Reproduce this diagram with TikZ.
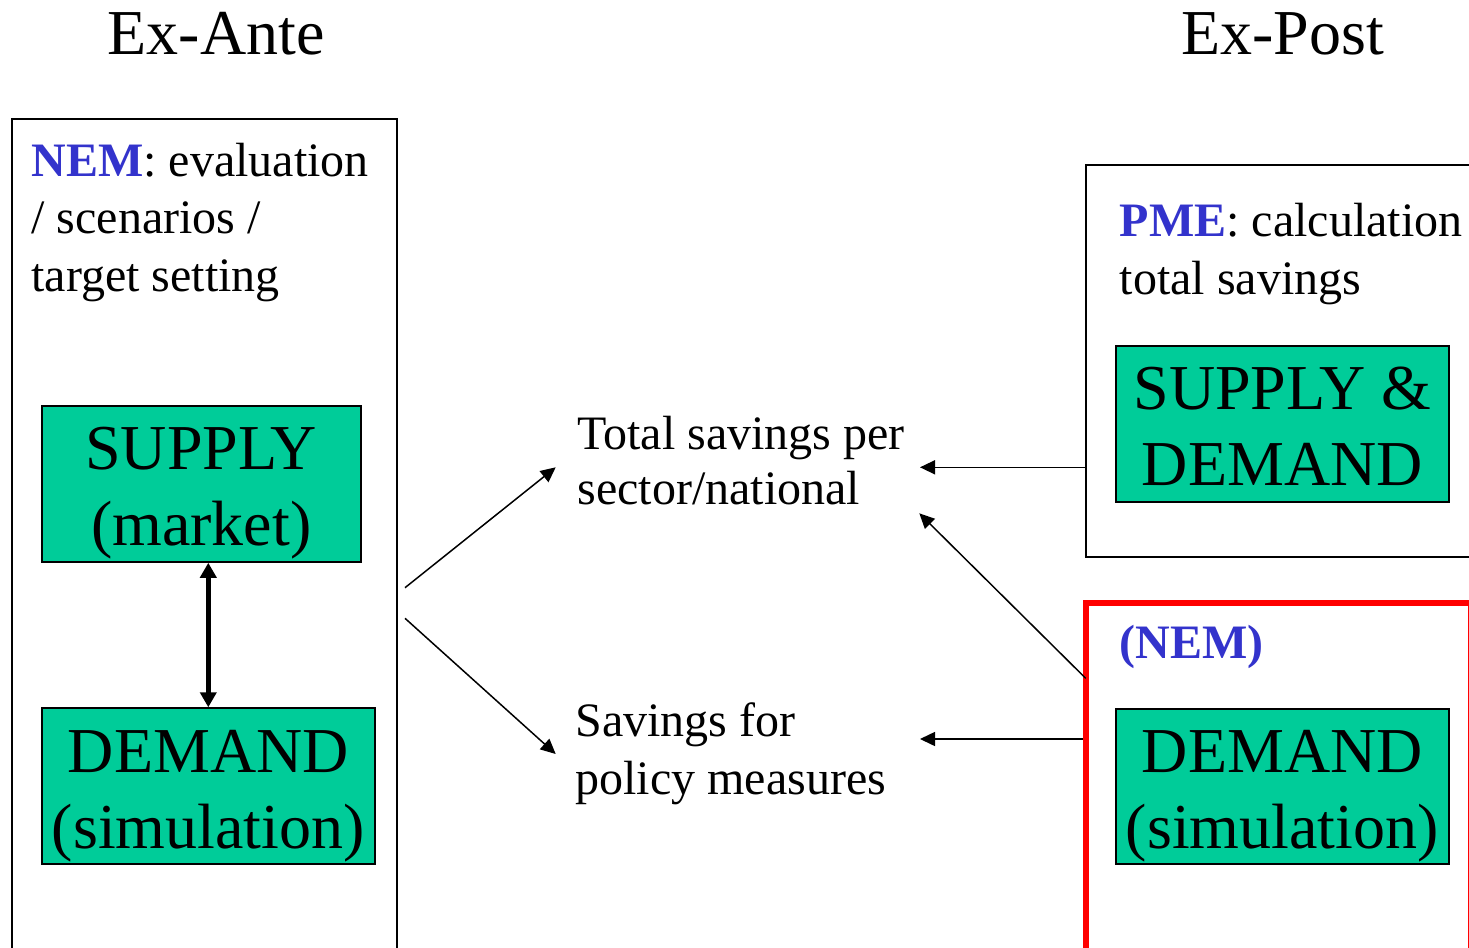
\documentclass[tikz,border=0pt]{standalone}
\usepackage{fontspec}
\setmainfont{Liberation Serif}
\usetikzlibrary{arrows.meta}
\definecolor{boxgreen}{RGB}{0,204,153}
\definecolor{nemblue}{RGB}{51,51,204}
\newcommand\bxstrut{\rule[-7pt]{0pt}{38pt}}
\newcommand\tpstrut{\rule{0pt}{0.9em}}
\begin{document}
\begin{tikzpicture}[x=0.5pt,y=-0.5pt,
  greenbox/.style={draw=black, line width=1pt, fill=boxgreen, align=center,
    inner sep=0pt, font=\fontsize{32}{38}\selectfont},
  outerbox/.style={draw=black, line width=1pt, inner sep=0pt},
  lbl/.style={anchor=north west, inner sep=0pt, align=left},
  ttl/.style={anchor=base, inner sep=0pt, font=\fontsize{32}{38}\selectfont},
  arr/.style={line width=0.75pt, -{Triangle[length=7.5pt,width=7pt]}},
  dbl/.style={line width=2.3pt, {Triangle[length=7.5pt,width=8pt]}-{Triangle[length=7.5pt,width=8pt]}}]
\useasboundingbox (0,0) rectangle (1469,948);
\clip (0,0) rectangle (1469,948);

% titles
\node[ttl] (exantet) at (216,54.3) {Ex-Ante};
\node[ttl] (expostt) at (1282.5,54.3) {Ex-Post};

% outer boxes
\node[outerbox, minimum width=192.65pt, minimum height=420.35pt] (exante) at (204.65,539.7) {};
\node[outerbox, line width=1.15pt, minimum width=194.65pt, minimum height=196.15pt] (pme) at (1280.35,361.15) {};
\node[outerbox, draw=red, line width=3pt, minimum width=192.65pt, minimum height=178.5pt] (nembox) at (1278.35,781.5) {};

% labels
\node[lbl, font=\fontsize{24}{28.75}\selectfont] (nemlab) at (31,132.8)
  {\tpstrut\textcolor{nemblue}{\textbf{NEM}}: evaluation\\/ scenarios /\\target setting};
\node[lbl, font=\fontsize{24}{29}\selectfont] (pmelab) at (1119.5,192.8)
  {\tpstrut\textcolor{nemblue}{\textbf{PME}}: calculation\\total savings};
\node[anchor=base west, inner sep=0pt, font=\fontsize{24}{29}\selectfont, text=nemblue] (nem2lab) at (1119,658.3)
  {\textbf{(NEM)}};
\node[lbl, font=\fontsize{24}{27.35}\selectfont] (tsav) at (577,406.1)
  {\tpstrut Total savings per\\sector/national};
\node[lbl, font=\fontsize{24}{29}\selectfont] (psav) at (575,692.8)
  {\tpstrut Savings for\\policy measures};

% green boxes
\node[greenbox, minimum width=159.5pt, minimum height=77.85pt] (supply) at (201.2,483.9)
  {\bxstrut SUPPLY\\\bxstrut(market)};
\node[greenbox, minimum width=166.65pt, minimum height=78pt] (demL) at (208.3,786.3)
  {\bxstrut DEMAND\\\bxstrut(simulation)};
\node[greenbox, minimum width=166.65pt, minimum height=77.85pt] (sd) at (1282.3,423.9)
  {\bxstrut SUPPLY \&\\\bxstrut DEMAND};
\node[greenbox, minimum width=166.65pt, minimum height=77.5pt] (demR) at (1282.3,786.5)
  {\bxstrut DEMAND\\\bxstrut(simulation)};

% connector end points
\coordinate (o1) at (405,587.7);
\coordinate (o2) at (405,618.3);
\coordinate (t1) at (555.7,467.3);
\coordinate (t2) at (555.7,754);
\coordinate (r1) at (920,467.3);
\coordinate (r2) at (919.3,513.3);
\coordinate (r3) at (920,739);
\coordinate (s2) at (1085.7,678.3);

% connectors
\draw[dbl] (supply.south -| demL.north) -- (demL.north);
\draw[arr] (o1) -- (t1);
\draw[arr] (o2) -- (t2);
\draw[arr] (pme.west |- r1) -- (r1);
\draw[arr] (s2) -- (r2);
\draw[arr] (nembox.west |- r3) -- (r3);
\end{tikzpicture}
\end{document}
